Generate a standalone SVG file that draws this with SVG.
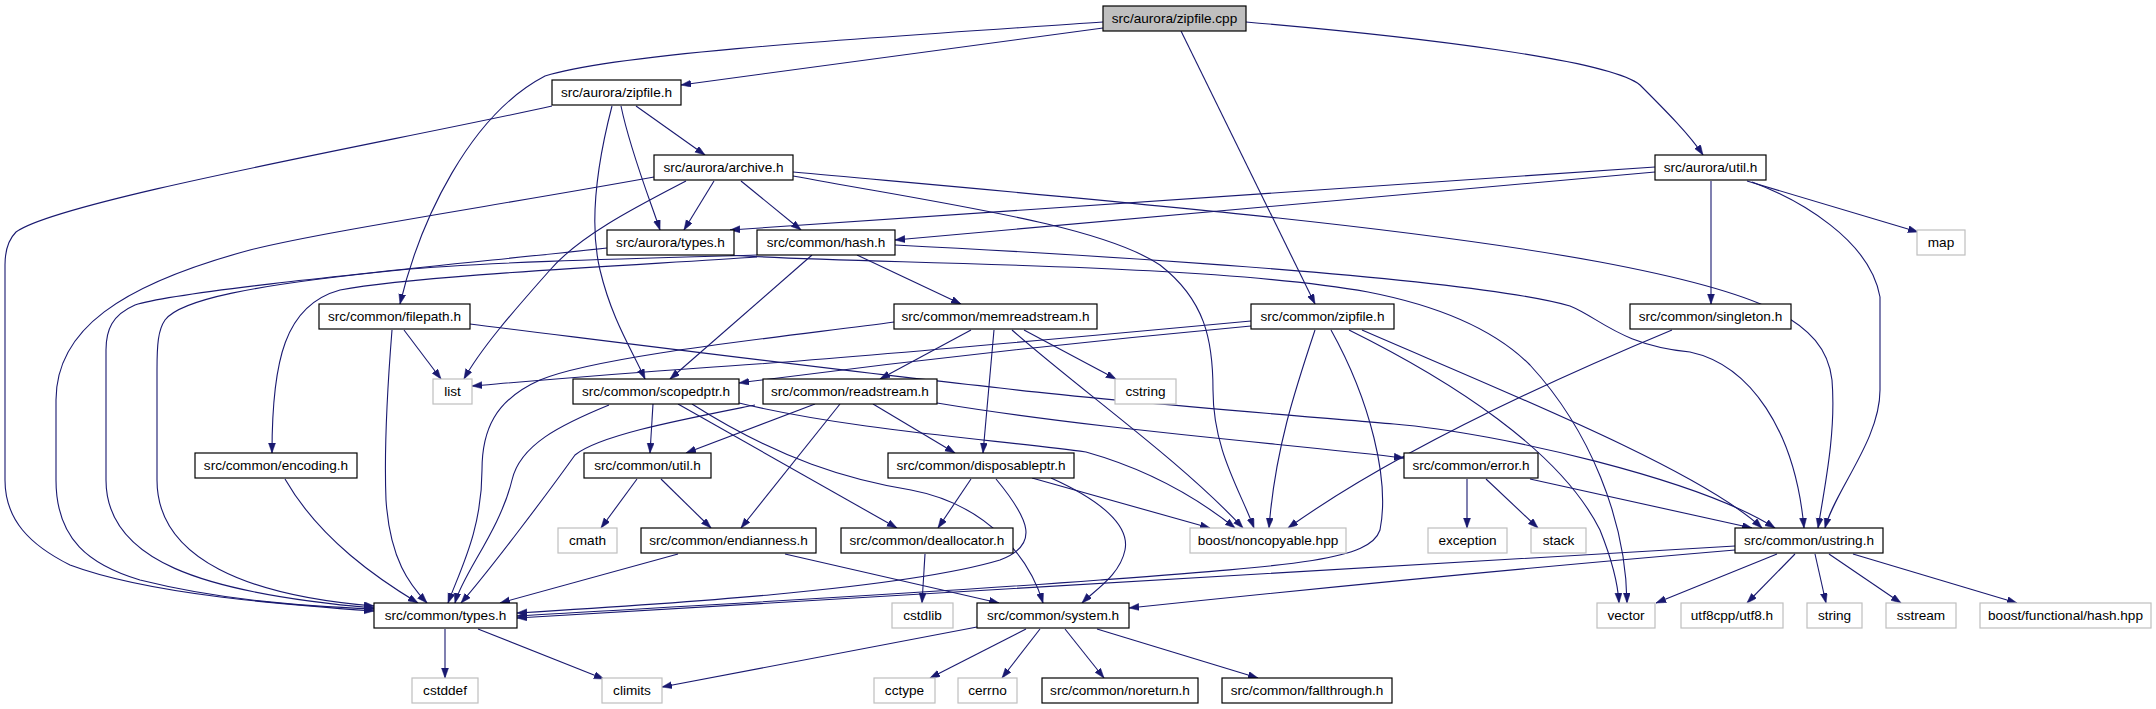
<svg xmlns="http://www.w3.org/2000/svg" width="2156" height="709" viewBox="0 0 2156 709">
<style>
.node rect{fill:#ffffff;stroke:#000000;stroke-width:1.2}
.node.ext rect{stroke:#bfbfbf}
.node.root rect{fill:#bfbfbf}
.node text{font-family:"Liberation Sans",Arial,Helvetica,sans-serif;font-size:13.6px;fill:#000000;text-anchor:middle}
#edges path{fill:none;stroke:#191970;stroke-width:1.1;marker-end:url(#arr)}
</style>
<defs>
<marker id="arr" markerUnits="userSpaceOnUse" markerWidth="11" markerHeight="8" refX="10" refY="3.5" orient="auto">
<path d="M0,0 L10,3.5 L0,7 z" fill="#191970" stroke="#191970" stroke-width="0.5"/>
</marker>
</defs>
<rect x="0" y="0" width="2156" height="709" fill="#ffffff"/>
<g id="edges">
<path d="M1103,28 L681,85"/>
<path d="M1103,22 C900,36 620,52 545,76 C470,115 420,220 400,304"/>
<path d="M1246,22 C1420,37 1610,60 1640,85 C1665,110 1690,135 1703,155"/>
<path d="M1181,31 L1315,304"/>
<path d="M552,106 C400,140 60,200 16,232 C8,240 5,250 5,265 L5,480 C5,520 30,545 70,565 C150,595 290,605 374,611"/>
<path d="M636,106 L705,155"/>
<path d="M621,106 C630,150 650,200 660,230"/>
<path d="M612,106 C598,160 588,220 600,270 C612,320 632,350 645,379"/>
<path d="M714,181 L684,230"/>
<path d="M741,181 L801,230"/>
<path d="M654,177 C500,205 320,232 250,250 C120,285 56,330 56,400 L56,480 C56,540 90,565 140,580 C220,600 300,606 374,609"/>
<path d="M686,181 C640,205 580,235 550,270 C510,315 480,350 464,379"/>
<path d="M793,176 C950,205 1100,225 1160,265 C1205,300 1213,340 1213,390 C1213,450 1240,490 1254,528"/>
<path d="M793,172 C1100,200 1400,225 1600,262 C1760,292 1825,320 1832,380 C1836,430 1826,480 1818,528"/>
<path d="M1655,167 L730,230"/>
<path d="M1655,172 L895,240"/>
<path d="M1711,181 L1711,304"/>
<path d="M1747,181 L1918,232"/>
<path d="M1752,182 C1800,200 1870,240 1880,297 L1880,390 C1880,440 1835,490 1825,528"/>
<path d="M857,255 L961,304"/>
<path d="M812,255 L670,379"/>
<path d="M895,245 C1150,258 1480,280 1570,306 C1600,318 1620,345 1690,352 C1750,365 1795,430 1804,528"/>
<path d="M757,257 C640,265 420,275 340,290 C285,305 272,360 272,453"/>
<path d="M757,255 C650,258 480,262 400,270 C250,285 180,300 165,320 C158,330 157,345 157,370 L157,480 C157,560 250,596 374,606"/>
<path d="M607,248 C450,265 180,290 135,305 C112,315 106,330 106,350 L106,480 C106,560 200,593 374,608"/>
<path d="M730,255 C850,264 1200,262 1368,292 C1450,308 1500,335 1530,365 C1590,430 1626,520 1627,603"/>
<path d="M404,330 L441,379"/>
<path d="M392,330 C388,380 384,450 386,500 C390,560 410,585 427,603"/>
<path d="M470,324 C600,340 850,372 1000,388 C1100,400 1250,412 1394,424 C1500,433 1700,480 1775,528"/>
<path d="M894,322 C800,335 600,355 540,380 C495,400 482,430 482,470 C482,530 460,570 448,603"/>
<path d="M971,330 L880,379"/>
<path d="M994,330 L983,453"/>
<path d="M1012,330 C1080,390 1180,460 1243,528"/>
<path d="M1024,330 L1116,379"/>
<path d="M1251,321 C1100,335 800,362 700,368 C600,375 520,382 472,386"/>
<path d="M1251,326 C1100,340 900,362 739,383"/>
<path d="M1315,330 C1295,390 1275,450 1269,528"/>
<path d="M1331,330 C1370,400 1390,480 1380,530 C1370,560 1300,565 1100,580 C900,595 650,608 517,616"/>
<path d="M1349,330 C1450,380 1560,450 1600,530 C1612,560 1618,585 1619,603"/>
<path d="M1362,330 C1500,390 1700,470 1762,528"/>
<path d="M1672,330 C1540,385 1390,455 1288,528"/>
<path d="M653,404 L650,453"/>
<path d="M609,405 C560,425 520,445 512,480 C500,530 462,575 455,603"/>
<path d="M678,404 L897,528"/>
<path d="M692,404 C780,460 850,480 911,490 C990,505 1030,560 1043,603"/>
<path d="M739,403 C850,430 1000,440 1086,452 C1150,470 1200,500 1235,528"/>
<path d="M755,405 C680,420 600,435 575,455 C550,490 490,570 461,603"/>
<path d="M815,404 L686,453"/>
<path d="M840,404 L741,528"/>
<path d="M873,404 L955,453"/>
<path d="M937,403 C1100,430 1300,445 1404,458"/>
<path d="M637,479 L601,528"/>
<path d="M661,479 L711,528"/>
<path d="M678,554 L500,603"/>
<path d="M785,554 L999,603"/>
<path d="M971,479 L938,528"/>
<path d="M996,479 C1030,520 1040,545 1000,560 C900,590 650,605 517,613"/>
<path d="M1032,478 L1210,528"/>
<path d="M1051,478 C1100,500 1130,525 1125,550 C1120,575 1095,590 1082,603"/>
<path d="M925,554 L922,603"/>
<path d="M1467,479 L1467,528"/>
<path d="M1486,479 L1538,528"/>
<path d="M1530,479 L1752,528"/>
<path d="M1735,546 C1500,560 900,595 517,618"/>
<path d="M1735,550 C1500,570 1300,590 1129,608"/>
<path d="M1777,554 L1656,603"/>
<path d="M1795,554 L1747,603"/>
<path d="M1815,554 L1826,603"/>
<path d="M1829,554 L1901,603"/>
<path d="M1853,554 L2017,603"/>
<path d="M977,627 L662,687"/>
<path d="M1026,629 L930,678"/>
<path d="M1040,629 L1002,678"/>
<path d="M1065,629 L1104,678"/>
<path d="M1097,629 L1258,678"/>
<path d="M445,629 L445,678"/>
<path d="M478,629 L604,679"/>
<path d="M285,479 C320,540 380,580 418,603"/>
</g>
<g id="n_zipfile_cpp" class="node root"><rect x="1103" y="6" width="143" height="25"/><text x="1174.5" y="23.3">src/aurora/zipfile.cpp</text></g>
<g id="n_aurora_zipfile_h" class="node"><rect x="552" y="80" width="129" height="25"/><text x="616.5" y="97.3">src/aurora/zipfile.h</text></g>
<g id="n_archive_h" class="node"><rect x="654" y="155" width="139" height="25"/><text x="723.5" y="172.3">src/aurora/archive.h</text></g>
<g id="n_aurora_util_h" class="node"><rect x="1655" y="155" width="111" height="25"/><text x="1710.5" y="172.3">src/aurora/util.h</text></g>
<g id="n_aurora_types_h" class="node"><rect x="607" y="230" width="127" height="25"/><text x="670.5" y="247.3">src/aurora/types.h</text></g>
<g id="n_hash_h" class="node"><rect x="757" y="230" width="138" height="25"/><text x="826" y="247.3">src/common/hash.h</text></g>
<g id="n_map" class="node ext"><rect x="1917" y="230" width="48" height="25"/><text x="1941" y="247.3">map</text></g>
<g id="n_filepath_h" class="node"><rect x="319" y="304" width="151" height="25"/><text x="394.5" y="321.3">src/common/filepath.h</text></g>
<g id="n_memreadstream_h" class="node"><rect x="894" y="304" width="203" height="25"/><text x="995.5" y="321.3">src/common/memreadstream.h</text></g>
<g id="n_common_zipfile_h" class="node"><rect x="1251" y="304" width="143" height="25"/><text x="1322.5" y="321.3">src/common/zipfile.h</text></g>
<g id="n_singleton_h" class="node"><rect x="1630" y="304" width="161" height="25"/><text x="1710.5" y="321.3">src/common/singleton.h</text></g>
<g id="n_list" class="node ext"><rect x="433" y="379" width="39" height="25"/><text x="452.5" y="396.3">list</text></g>
<g id="n_scopedptr_h" class="node"><rect x="573" y="379" width="166" height="25"/><text x="656" y="396.3">src/common/scopedptr.h</text></g>
<g id="n_readstream_h" class="node"><rect x="763" y="379" width="174" height="25"/><text x="850" y="396.3">src/common/readstream.h</text></g>
<g id="n_cstring" class="node ext"><rect x="1115" y="379" width="61" height="25"/><text x="1145.5" y="396.3">cstring</text></g>
<g id="n_encoding_h" class="node"><rect x="195" y="453" width="162" height="25"/><text x="276" y="470.3">src/common/encoding.h</text></g>
<g id="n_common_util_h" class="node"><rect x="584" y="453" width="127" height="25"/><text x="647.5" y="470.3">src/common/util.h</text></g>
<g id="n_disposableptr_h" class="node"><rect x="888" y="453" width="186" height="25"/><text x="981" y="470.3">src/common/disposableptr.h</text></g>
<g id="n_error_h" class="node"><rect x="1404" y="453" width="134" height="25"/><text x="1471" y="470.3">src/common/error.h</text></g>
<g id="n_cmath" class="node ext"><rect x="558" y="528" width="59" height="25"/><text x="587.5" y="545.3">cmath</text></g>
<g id="n_endianness_h" class="node"><rect x="641" y="528" width="175" height="25"/><text x="728.5" y="545.3">src/common/endianness.h</text></g>
<g id="n_deallocator_h" class="node"><rect x="841" y="528" width="172" height="25"/><text x="927" y="545.3">src/common/deallocator.h</text></g>
<g id="n_noncopyable" class="node ext"><rect x="1190" y="528" width="156" height="25"/><text x="1268" y="545.3">boost/noncopyable.hpp</text></g>
<g id="n_exception" class="node ext"><rect x="1428" y="528" width="79" height="25"/><text x="1467.5" y="545.3">exception</text></g>
<g id="n_stack" class="node ext"><rect x="1531" y="528" width="55" height="25"/><text x="1558.5" y="545.3">stack</text></g>
<g id="n_ustring_h" class="node"><rect x="1735" y="528" width="148" height="25"/><text x="1809" y="545.3">src/common/ustring.h</text></g>
<g id="n_common_types_h" class="node"><rect x="374" y="603" width="143" height="25"/><text x="445.5" y="620.3">src/common/types.h</text></g>
<g id="n_cstdlib" class="node ext"><rect x="892" y="603" width="61" height="25"/><text x="922.5" y="620.3">cstdlib</text></g>
<g id="n_system_h" class="node"><rect x="977" y="603" width="152" height="25"/><text x="1053" y="620.3">src/common/system.h</text></g>
<g id="n_vector" class="node ext"><rect x="1597" y="603" width="58" height="25"/><text x="1626" y="620.3">vector</text></g>
<g id="n_utf8" class="node ext"><rect x="1681" y="603" width="102" height="25"/><text x="1732" y="620.3">utf8cpp/utf8.h</text></g>
<g id="n_string" class="node ext"><rect x="1807" y="603" width="55" height="25"/><text x="1834.5" y="620.3">string</text></g>
<g id="n_sstream" class="node ext"><rect x="1886" y="603" width="70" height="25"/><text x="1921" y="620.3">sstream</text></g>
<g id="n_boost_hash" class="node ext"><rect x="1980" y="603" width="171" height="25"/><text x="2065.5" y="620.3">boost/functional/hash.hpp</text></g>
<g id="n_cstddef" class="node ext"><rect x="412" y="678" width="66" height="25"/><text x="445" y="695.3">cstddef</text></g>
<g id="n_climits" class="node ext"><rect x="602" y="678" width="60" height="25"/><text x="632" y="695.3">climits</text></g>
<g id="n_cctype" class="node ext"><rect x="874" y="678" width="61" height="25"/><text x="904.5" y="695.3">cctype</text></g>
<g id="n_cerrno" class="node ext"><rect x="958" y="678" width="59" height="25"/><text x="987.5" y="695.3">cerrno</text></g>
<g id="n_noreturn_h" class="node"><rect x="1042" y="678" width="156" height="25"/><text x="1120" y="695.3">src/common/noreturn.h</text></g>
<g id="n_fallthrough_h" class="node"><rect x="1222" y="678" width="170" height="25"/><text x="1307" y="695.3">src/common/fallthrough.h</text></g>
</svg>
